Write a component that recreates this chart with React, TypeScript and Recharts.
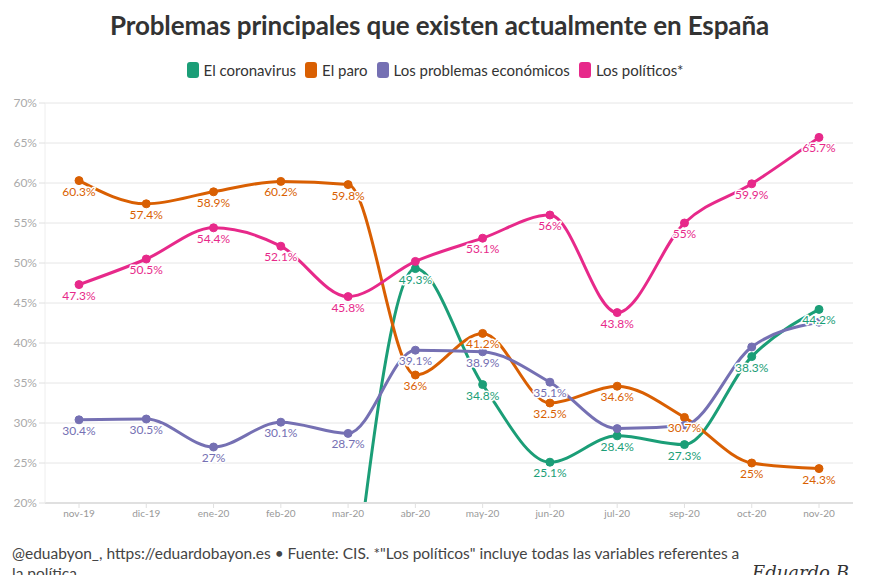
import React from 'react';
import { LineChart, Line, XAxis, YAxis, CartesianGrid, LabelList } from 'recharts';

const months = ['nov-19', 'dic-19', 'ene-20', 'feb-20', 'mar-20', 'abr-20', 'may-20', 'jun-20', 'jul-20', 'sep-20', 'oct-20', 'nov-20'];
const coronavirus = [null, null, null, null, 2.9, 49.3, 34.8, 25.1, 28.4, 27.3, 38.3, 44.2];
const paro = [60.3, 57.4, 58.9, 60.2, 59.8, 36, 41.2, 32.5, 34.6, 30.7, 25, 24.3];
const economicos = [30.4, 30.5, 27, 30.1, 28.7, 39.1, 38.9, 35.1, 29.3, 29.7, 39.5, 42.6];
const politicos = [47.3, 50.5, 54.4, 52.1, 45.8, 50.2, 53.1, 56, 43.8, 55, 59.9, 65.7];
const yTicks = [20, 25, 30, 35, 40, 45, 50, 55, 60, 65, 70];

const series = [
  { key: 'coronavirus', name: 'El coronavirus', color: '#1b9e77', values: coronavirus, hidden: [4] },
  { key: 'paro', name: 'El paro', color: '#d95f02', values: paro, hidden: [] as number[] },
  { key: 'economicos', name: 'Los problemas económicos', color: '#7570b3', values: economicos, hidden: [8, 9, 10, 11] },
  { key: 'politicos', name: 'Los políticos*', color: '#e7298a', values: politicos, hidden: [5] },
];

const data = months.map((m, i) => {
  const row: any = { month: m };
  series.forEach((s) => { row[s.key] = s.values[i]; });
  return row;
});

const FONT = 'Lato, "Noto Sans", sans-serif';

const makeLabel = (color: string, hidden: number[]) => (props: any) => {
  const { x, y, value, index } = props;
  if (value == null || hidden.includes(index)) return null;
  return (
    <text
      x={x}
      y={y + 15}
      textAnchor="middle"
      fontSize={12}
      fontFamily={FONT}
      fill={color}
      stroke="#fff"
      strokeWidth={3}
      paintOrder="stroke"
      strokeLinejoin="round"
    >
      {`${value}%`}
    </text>
  );
};

export default function App() {
  return (
    <div style={{ position: 'absolute', left: 0, top: 0, width: 879, height: 575, background: '#fff', overflow: 'hidden', fontFamily: FONT }}>
      <div style={{ position: 'absolute', top: 9, left: 0, width: 879, textAlign: 'center', fontSize: 26, fontWeight: 700, color: '#333', letterSpacing: -0.1 }}>
        Problemas principales que existen actualmente en España
      </div>
      <div style={{ position: 'absolute', top: 61, left: 0, width: 879, display: 'flex', justifyContent: 'center', alignItems: 'center', fontSize: 15, color: '#333' }}>
        {series.map((s) => (
          <div key={s.key} style={{ display: 'flex', alignItems: 'center', marginRight: 9 }}>
            <span style={{ display: 'inline-block', width: 12, height: 16, borderRadius: 3, background: s.color, marginRight: 5 }} />
            <span>{s.name}</span>
          </div>
        ))}
      </div>
      <div style={{ position: 'absolute', left: 0, top: 0 }}>
        <LineChart width={879} height={540} data={data} margin={{ top: 103, right: 26, bottom: 0, left: 0 }}>
          <CartesianGrid vertical={false} stroke="#e6e6e6" strokeWidth={1} />
          <XAxis
            dataKey="month"
            padding={{ left: 34, right: 34 }}
            height={37}
            tickSize={5}
            tickLine={{ stroke: '#e0e0e0' }}
            axisLine={{ stroke: '#e0e0e0', strokeWidth: 2 }}
            tick={{ fontSize: 10, fill: '#999', fontFamily: FONT }}
            interval={0}
          />
          <YAxis
            width={45}
            domain={[20, 70]}
            ticks={yTicks}
            allowDataOverflow
            tickFormatter={(v: number) => `${v}%`}
            tickSize={6}
            tickLine={{ stroke: '#e0e0e0' }}
            axisLine={{ stroke: '#eeeeee' }}
            tick={{ fontSize: 12, fill: '#aaa', fontFamily: FONT }}
          />
          {series.map((s) => (
            <Line
              key={s.key}
              type="monotoneX"
              dataKey={s.key}
              name={s.name}
              stroke={s.color}
              strokeWidth={3}
              dot={{ r: 4, fill: s.color, stroke: s.color, strokeWidth: 1 }}
              activeDot={false}
              isAnimationActive={false}
            />
          ))}
          {series.map((s) => (
            <Line
              key={s.key + '-labels'}
              type="monotoneX"
              dataKey={s.key}
              stroke="none"
              dot={false}
              activeDot={false}
              legendType="none"
              isAnimationActive={false}
            >
              <LabelList dataKey={s.key} content={makeLabel(s.color, s.hidden)} />
            </Line>
          ))}
        </LineChart>
      </div>
      <div style={{ position: 'absolute', left: 12, top: 543, width: 735, fontSize: 15.5, lineHeight: '20px', color: '#444' }}>
        @eduabyon_, https://eduardobayon.es • Fuente: CIS. *"Los políticos" incluye todas las variables referentes a la política
      </div>
      <div style={{ position: 'absolute', left: 752, top: 562, fontSize: 18, fontStyle: 'italic', fontFamily: '"DejaVu Serif", serif', color: '#333' }}>
        Eduardo B
      </div>
    </div>
  );
}
